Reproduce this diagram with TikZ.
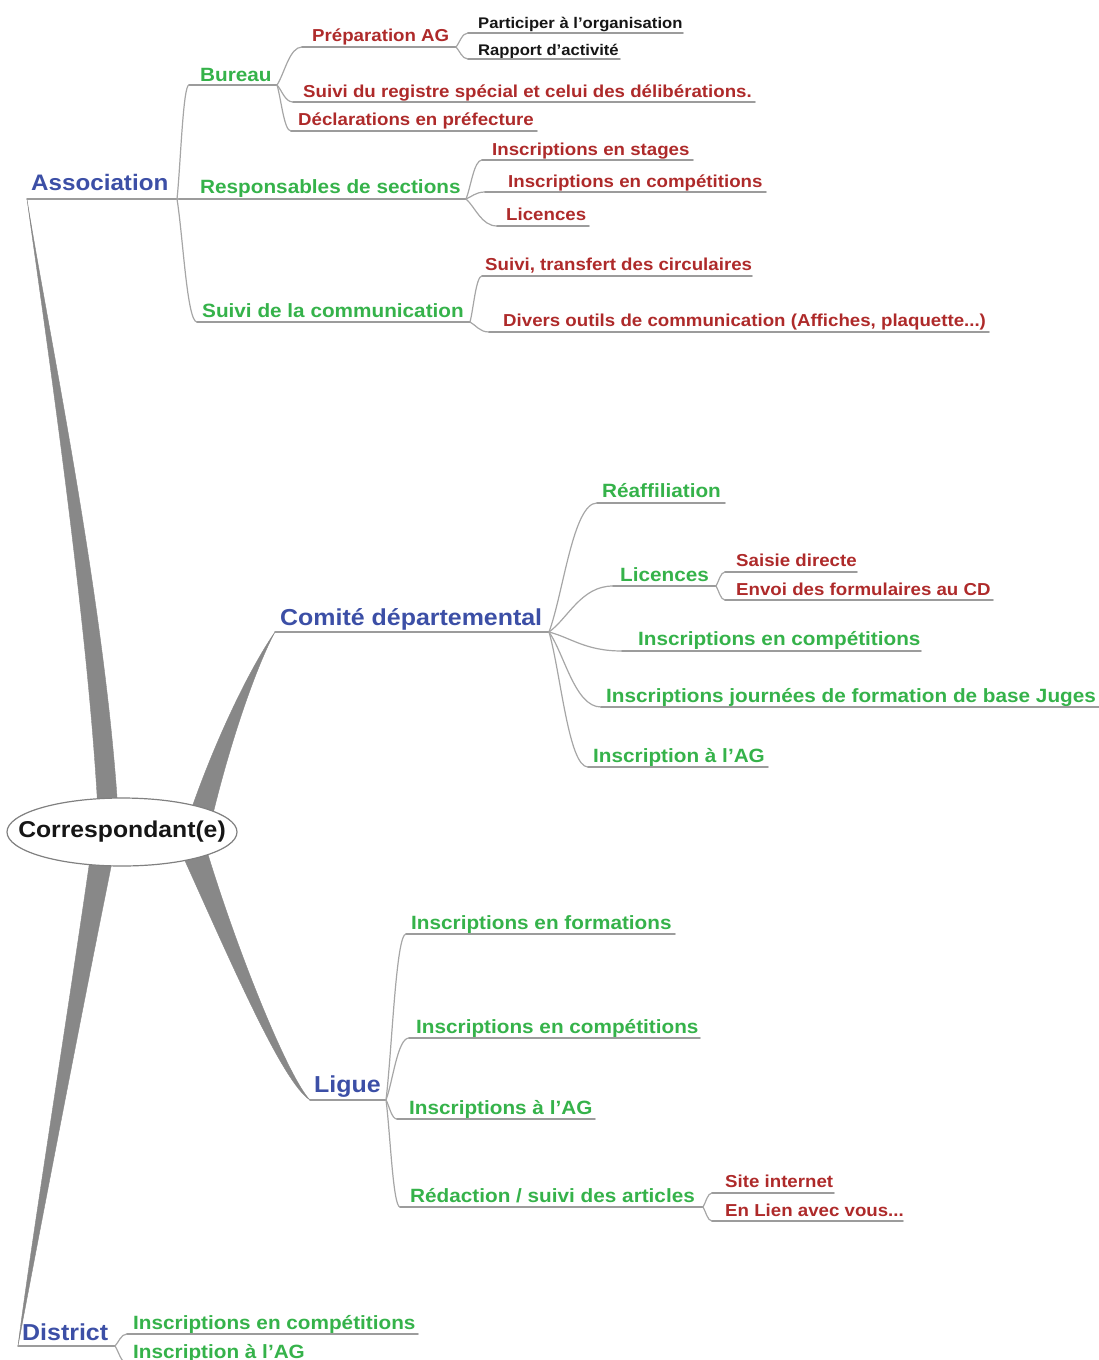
\documentclass[tikz,border=0pt]{standalone}
\usepackage{fontspec}
\setmainfont{Liberation Sans}[FakeStretch=1.08]
\usetikzlibrary{calc,backgrounds}
\definecolor{mmblue}{HTML}{3C4FA6}
\definecolor{mmgreen}{HTML}{35B24A}
\definecolor{mmred}{HTML}{AE2A2A}
\definecolor{mmblack}{HTML}{161616}
\definecolor{linegray}{HTML}{9C9C9C}
\definecolor{conngray}{HTML}{A6A6A6}
\definecolor{branchgray}{HTML}{888888}
\definecolor{ellgray}{HTML}{808080}
\tikzset{
  lbl/.style={inner sep=0pt, anchor=base west, font=\bfseries},
  lvlA/.style={lbl, text=mmblue, font=\bfseries\fontsize{23.1}{26}\selectfont},
  lvlAs/.style={lbl, text=mmblue, font=\bfseries\fontsize{22.4}{25}\selectfont},
  lvlB/.style={lbl, text=mmgreen, font=\bfseries\fontsize{19.2}{22}\selectfont},
  lvlC/.style={lbl, text=mmred, font=\bfseries\fontsize{17.3}{20}\selectfont},
  lvlD/.style={lbl, text=mmblack, font=\bfseries\fontsize{15.4}{18}\selectfont},
  rootnode/.style={inner sep=0pt, text=mmblack,
     font=\bfseries\fontsize{22.9}{26}\selectfont},
  rootshape/.style={draw=ellgray, line width=1.2pt, fill=white},
  uline/.style={draw=linegray, line width=1.6pt, line cap=round},
  conn/.style={draw=conngray, line width=1.2pt},
  branch/.style={fill=branchgray, draw=branchgray, line width=0.4pt},
}
% name, style, text x, baseline, underline x1, underline x2, underline y, text
\newcommand\mmn[8]{%
  \node[#2] (#1) at (#3,#4) {#8};
  \coordinate (#1-l) at (#5,#7);
  \coordinate (#1-r) at (#6,#7);
  \draw[uline] (#1-l) -- (#1-r);
}
\newcommand\mmc[2]{%
  \draw[conn] let \p1=(#1-r), \p2=(#2-l) in
    (\p1) .. controls ($(\p1)!0.3!(\p2)$) and ({0.5*\x1+0.5*\x2},\y2) .. (\p2);
}
\begin{document}
\begin{tikzpicture}[x=1pt,y=-1pt]
\useasboundingbox (0,0) rectangle (1099,1360);
\clip (0,0) rectangle (1099,1360);

% root
\coordinate (rootc) at (122,832);
\path[rootshape] (rootc) ellipse [x radius=115, y radius=34];
\node[rootnode] (root) at (rootc) {Correspondant(e)};

% level A
\mmn{assoc}{lvlAs}{31}{190}{27}{177}{199}{Association}
\mmn{comite}{lvlA}{280}{625}{275}{549}{632}{Comité départemental}
\mmn{ligue}{lvlA}{314}{1092}{310}{386}{1100}{Ligue}
\mmn{district}{lvlA}{22}{1340}{18}{115}{1346}{District}

% Association
\mmn{bureau}{lvlB}{200}{81}{189}{277}{85}{Bureau}
\mmn{resp}{lvlB}{200}{193}{179}{466}{199}{Responsables de sections}
\mmn{scomm}{lvlB}{202}{317}{197}{470}{322}{Suivi de la communication}
\mmn{prep}{lvlC}{312}{41}{302}{456}{47}{Préparation AG}
\mmn{sreg}{lvlC}{303}{97}{293}{755}{102}{Suivi du registre spécial et celui des délibérations.}
\mmn{decl}{lvlC}{298}{125}{291}{537}{131}{Déclarations en préfecture}
\mmn{part}{lvlD}{478}{28}{468}{683}{33}{Participer à l'organisation}
\mmn{rapp}{lvlD}{478}{55}{468}{620}{59}{Rapport d'activité}
\mmn{istages}{lvlC}{492}{155}{482}{693}{160}{Inscriptions en stages}
\mmn{icomp}{lvlC}{508}{187}{485}{766}{192}{Inscriptions en compétitions}
\mmn{alic}{lvlC}{506}{220}{497}{589}{226}{Licences}
\mmn{trans}{lvlC}{485}{270}{482}{752}{276}{Suivi, transfert des circulaires}
\mmn{divers}{lvlC}{503}{326}{489}{989}{332}{Divers outils de communication (Affiches, plaquette...)}

% Comité
\mmn{reaff}{lvlB}{602}{497}{597}{725}{503}{Réaffiliation}
\mmn{clic}{lvlB}{620}{581}{613}{716}{586}{Licences}
\mmn{ccomp}{lvlB}{638}{645}{622}{921}{651}{Inscriptions en compétitions}
\mmn{cjour}{lvlB}{606}{702}{601}{1099}{707}{Inscriptions journées de formation de base Juges}
\mmn{cag}{lvlB}{593}{762}{588}{768}{767}{Inscription à l'AG}
\mmn{saisie}{lvlC}{736}{566}{725}{857}{572}{Saisie directe}
\mmn{envoi}{lvlC}{736}{595}{725}{993}{600}{Envoi des formulaires au CD}

% Ligue
\mmn{lform}{lvlB}{411}{929}{406}{675}{934}{Inscriptions en formations}
\mmn{lcomp}{lvlB}{416}{1033}{409}{700}{1038}{Inscriptions en compétitions}
\mmn{lag}{lvlB}{409}{1114}{397}{595}{1119}{Inscriptions à l'AG}
\mmn{lred}{lvlB}{410}{1202}{400}{703}{1207}{Rédaction / suivi des articles}
\mmn{site}{lvlC}{725}{1187}{712}{834}{1193}{Site internet}
\mmn{lien}{lvlC}{725}{1216}{712}{903}{1221}{En Lien avec vous...}

% District
\mmn{dcomp}{lvlB}{133}{1329}{127}{418}{1334}{Inscriptions en compétitions}
\mmn{dag}{lvlB}{133}{1358}{127}{306}{1363}{Inscription à l'AG}

% connectors
\mmc{assoc}{bureau}
\mmc{assoc}{resp}
\mmc{assoc}{scomm}
\mmc{bureau}{prep}
\mmc{bureau}{sreg}
\mmc{bureau}{decl}
\mmc{prep}{part}
\mmc{prep}{rapp}
\mmc{resp}{istages}
\mmc{resp}{icomp}
\mmc{resp}{alic}
\mmc{scomm}{trans}
\mmc{scomm}{divers}
\mmc{comite}{reaff}
\mmc{comite}{clic}
\mmc{comite}{ccomp}
\mmc{comite}{cjour}
\mmc{comite}{cag}
\mmc{clic}{saisie}
\mmc{clic}{envoi}
\mmc{ligue}{lform}
\mmc{ligue}{lcomp}
\mmc{ligue}{lag}
\mmc{ligue}{lred}
\mmc{lred}{site}
\mmc{lred}{lien}
\mmc{district}{dcomp}
\mmc{district}{dag}

% thick branches behind the root
\begin{scope}[on background layer]
  \fill[branch] (98,812) .. controls (88,620) and (45,330) .. (assoc-l)
     .. controls (46,320) and (105,600) .. (118,812) -- cycle;
  \fill[branch] (189,816) .. controls (215,740) and (250,668) .. (comite-l)
     .. controls (258,663) and (232,735) .. (212,818) -- cycle;
  \fill[branch] (181,852) .. controls (230,960) and (282,1082) .. (ligue-l)
     .. controls (290,1080) and (240,960) .. (206,848) -- cycle;
  \fill[branch] (91,852) .. controls (70,1000) and (30,1250) .. (district-l)
     .. controls (36,1250) and (84,1000) .. (114,852) -- cycle;
\end{scope}
\end{tikzpicture}
\end{document}
